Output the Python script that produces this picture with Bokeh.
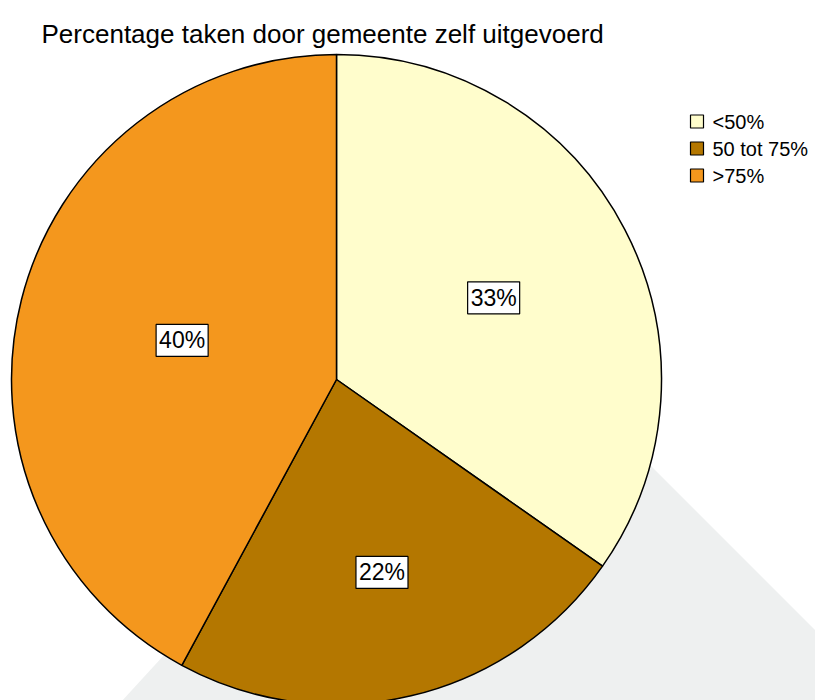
import math
from bokeh.plotting import figure
from bokeh.models import Range1d, ColumnDataSource
from bokeh.core.properties import value
from bokeh.embed import file_html
from bokeh.resources import INLINE

# ---- data ----
title = "Percentage taken door gemeente zelf uitgevoerd"
categories = ["<50%", "50 tot 75%", ">75%"]
percentages = [33, 22, 40]
colors = ["#FFFDCC", "#B47700", "#F4971D"]

# ---- layout constants (pixel space, y up) ----
W, H = 815, 700
CX, CY, R = 336, H - 379, 325
label_radius_frac = [0.545, 0.61, 0.49]
FONT = "Liberation Sans"

p = figure(width=W, height=H, output_backend="svg", toolbar_location=None,
           x_range=Range1d(0, W), y_range=Range1d(0, H), min_border=0)
p.axis.visible = False
p.grid.visible = False
p.outline_line_color = None
p.background_fill_color = "white"
p.border_fill_color = "white"

# decorative shadow behind the pie
ax, ay = 487, H - 302
p.patch(x=[ax, ax + 700, ax - 700 / 1.09], y=[ay, ay - 700, ay - 700],
        fill_color="#EEF0F0", line_color=None)

total = sum(percentages)
starts, ends, lx, ly, labels = [], [], [], [], []
cum = 0.0
for v, f in zip(percentages, label_radius_frac):
    a0 = math.pi / 2 - 2 * math.pi * cum / total
    cum += v
    a1 = math.pi / 2 - 2 * math.pi * cum / total
    starts.append(a0)
    ends.append(a1)
    mid = (a0 + a1) / 2
    lx.append(CX + f * R * math.cos(mid))
    ly.append(CY + f * R * math.sin(mid))
    labels.append(f"{v}%")

src = ColumnDataSource(dict(start=starts, end=ends, color=colors))
p.wedge(x=CX, y=CY, radius=R, start_angle="start", end_angle="end",
        direction="clock", fill_color="color", line_color="black",
        line_width=1.5, source=src)

p.text(x=lx, y=ly, text=labels, text_font=value(FONT), text_font_size="23px",
       text_color="black", text_align="center", text_baseline="middle",
       background_fill_color="white", border_line_color="black",
       border_line_width=1.2, padding=3)

# title
p.text(x=[41], y=[H - 33], text=[title], text_font=value(FONT),
       text_font_size="26px", text_color="black", text_baseline="alphabetic")

# legend
leg_y = [H - 121, H - 148, H - 175]
p.rect(x=[696.5] * 3, y=leg_y, width=13, height=13, fill_color=colors,
       line_color="black", line_width=1.2)
p.text(x=[712] * 3, y=leg_y, text=categories, text_font=value(FONT),
       text_font_size="20px", text_color="black", text_baseline="middle")

open("out.html", "w").write(file_html(p, INLINE))
